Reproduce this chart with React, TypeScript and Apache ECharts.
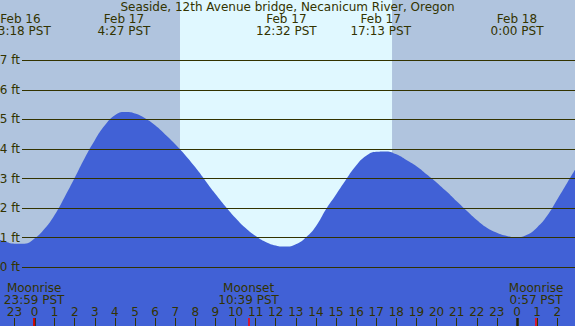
import React, { useEffect, useRef } from "react";
import * as echarts from "echarts";

const TITLE = "Seaside, 12th Avenue bridge, Necanicum River, Oregon";

// tide height (ft) read at half-hours relative to Feb 17 00:00 PST
const hours = [-1.716, -1.5, -1, -0.5, 0, 0.5, 1, 1.5, 2, 2.5, 3, 3.5, 4, 4.5, 5, 5.5, 6, 6.5, 7, 7.5, 8, 8.5, 9, 9.5, 10, 10.5, 11, 11.5, 12, 12.5, 13, 13.5, 14, 14.5, 15, 15.5, 16, 16.5, 17, 17.5, 18, 18.5, 19, 19.5, 20, 20.5, 21, 21.5, 22, 22.5, 23, 23.5, 24, 24.5, 25, 25.5, 26, 26.5, 26.886];
const heights = [0.92, 0.88, 0.8, 0.8, 0.97, 1.3, 1.77, 2.38, 3.03, 3.7, 4.3, 4.8, 5.14, 5.25, 5.2, 5.04, 4.8, 4.49, 4.16, 3.79, 3.38, 2.93, 2.48, 2.06, 1.67, 1.33, 1.06, 0.86, 0.74, 0.7, 0.78, 1.01, 1.39, 1.96, 2.46, 2.97, 3.44, 3.77, 3.91, 3.92, 3.82, 3.63, 3.42, 3.15, 2.87, 2.56, 2.23, 1.91, 1.6, 1.34, 1.17, 1.06, 1.02, 1.1, 1.35, 1.74, 2.29, 2.86, 3.3];

const tideTimes = [-0.7, 4.45, 12.53, 17.22, 24];
const tideLabels = ["Feb 16\n23:18 PST", "Feb 17\n4:27 PST", "Feb 17\n12:32 PST", "Feb 17\n17:13 PST", "Feb 18\n0:00 PST"];

const hourTicks = [-1, 0, 1, 2, 3, 4, 5, 6, 7, 8, 9, 10, 11, 12, 13, 14, 15, 16, 17, 18, 19, 20, 21, 22, 23, 24, 25, 26];
const midnights = [0, 24];

const moonTimes = [-0.017, 10.65, 24.95];
const moonLabels = ["Moonrise\n23:59 PST", "Moonset\n10:39 PST", "Moonrise\n0:57 PST"];

const sunrise = 7.237;
const sunset = 17.785;

const feetLines = [0, 1, 2, 3, 4, 5, 6, 7];

const X_MIN = -1.716;
const X_MAX = 26.886;
const Y_MIN = -1.985;
const Y_MAX = 9.04;

const FONT = "DejaVu Sans";
const TXT = "#333300";

export default function App() {
  const ref = useRef<HTMLDivElement>(null);
  useEffect(() => {
    if (!ref.current) return;
    const chart = echarts.init(ref.current, undefined, { renderer: "svg" });
    const hideAxis = {
      axisLine: { show: false, onZero: false },
      axisTick: { show: false },
      axisLabel: { show: false },
      splitLine: { show: false },
    };
    const option: any = {
      animation: false,
      backgroundColor: "#b0c4de",
      title: {
        text: TITLE,
        left: "center",
        top: 0,
        padding: [1, 0, 0, 0],
        textStyle: { fontFamily: FONT, fontSize: 12, fontWeight: "normal", color: TXT },
      },
      grid: [
        { left: 0, right: 0, top: 0, bottom: 0, containLabel: false, outerBoundsMode: "none" },
        { left: 22, right: 0, top: 0, bottom: 0, containLabel: false, outerBoundsMode: "none" },
      ],
      xAxis: [
        {
          gridIndex: 0, type: "value", min: X_MIN, max: X_MAX, position: "bottom", z: 10,
          axisLine: { show: false, onZero: false },
          splitLine: { show: false },
          axisTick: { show: true, customValues: hourTicks, inside: true, length: 8, lineStyle: { color: TXT, width: 1 } },
          axisLabel: {
            show: true, customValues: hourTicks, inside: true, margin: 8,
            formatter: (v: number) => String(((v % 24) + 24) % 24),
            fontFamily: FONT, fontSize: 12, color: TXT,
          },
        },
        {
          gridIndex: 0, type: "value", min: X_MIN, max: X_MAX, position: "bottom", z: 11,
          axisLine: { show: false, onZero: false },
          splitLine: { show: false },
          axisTick: { show: true, customValues: midnights, inside: true, length: 8, lineStyle: { color: "#222200", width: 2.5 } },
          axisLabel: { show: false },
        },
        {
          gridIndex: 0, type: "value", min: X_MIN, max: X_MAX, position: "bottom", z: 12,
          axisLine: { show: false, onZero: false },
          splitLine: { show: false },
          axisTick: { show: true, customValues: moonTimes, inside: true, length: 8, lineStyle: { color: "#ff0000", width: 1.5 } },
          axisLabel: {
            show: true, customValues: moonTimes, inside: true, margin: 20, lineHeight: 12,
            formatter: (v: number) => moonLabels[moonTimes.indexOf(v)] ?? "",
            fontFamily: FONT, fontSize: 12, color: TXT, align: "center",
          },
        },
        {
          gridIndex: 0, type: "value", min: X_MIN, max: X_MAX, position: "top", z: 12,
          axisLine: { show: false, onZero: false },
          splitLine: { show: false },
          axisTick: { show: false },
          axisLabel: {
            show: true, customValues: tideTimes, inside: true, margin: 13, lineHeight: 12,
            formatter: (v: number) => tideLabels[tideTimes.indexOf(v)] ?? "",
            fontFamily: FONT, fontSize: 12, color: TXT, align: "center",
          },
        },
        { gridIndex: 1, type: "value", min: X_MIN, max: X_MAX, ...hideAxis },
      ],
      yAxis: [
        { gridIndex: 0, type: "value", min: Y_MIN, max: Y_MAX, ...hideAxis },
        { gridIndex: 1, type: "value", min: Y_MIN, max: Y_MAX, ...hideAxis },
      ],
      series: [
        {
          type: "line",
          xAxisIndex: 0,
          yAxisIndex: 0,
          z: 2,
          smooth: 0.5,
          symbol: "none",
          lineStyle: { width: 0 },
          areaStyle: { color: "#4161d6", opacity: 1, origin: "start" },
          data: hours.map((h, i) => [h, heights[i]]),
          markArea: {
            silent: true,
            z: 1,
            itemStyle: { color: "#e0f8ff" },
            data: [[{ xAxis: sunrise }, { xAxis: sunset }]],
          },
        },
        {
          type: "line",
          xAxisIndex: 4,
          yAxisIndex: 1,
          z: 5,
          symbol: "none",
          lineStyle: { opacity: 0 },
          data: hours.map((h, i) => [h, heights[i]]),
          markLine: {
            silent: true,
            symbol: ["none", "none"],
            lineStyle: { color: TXT, width: 1, type: "solid" },
            label: {
              show: true, position: "start", distance: 2,
              formatter: (p: any) => `${p.value} ft`,
              fontFamily: FONT, fontSize: 12, color: TXT,
            },
            data: feetLines.map((v) => ({ yAxis: v })),
          },
        },
      ],
    };
    chart.setOption(option);
    return () => chart.dispose();
  }, []);
  return <div ref={ref} style={{ position: "fixed", left: 0, top: 0, width: 575, height: 326 }} />;
}
